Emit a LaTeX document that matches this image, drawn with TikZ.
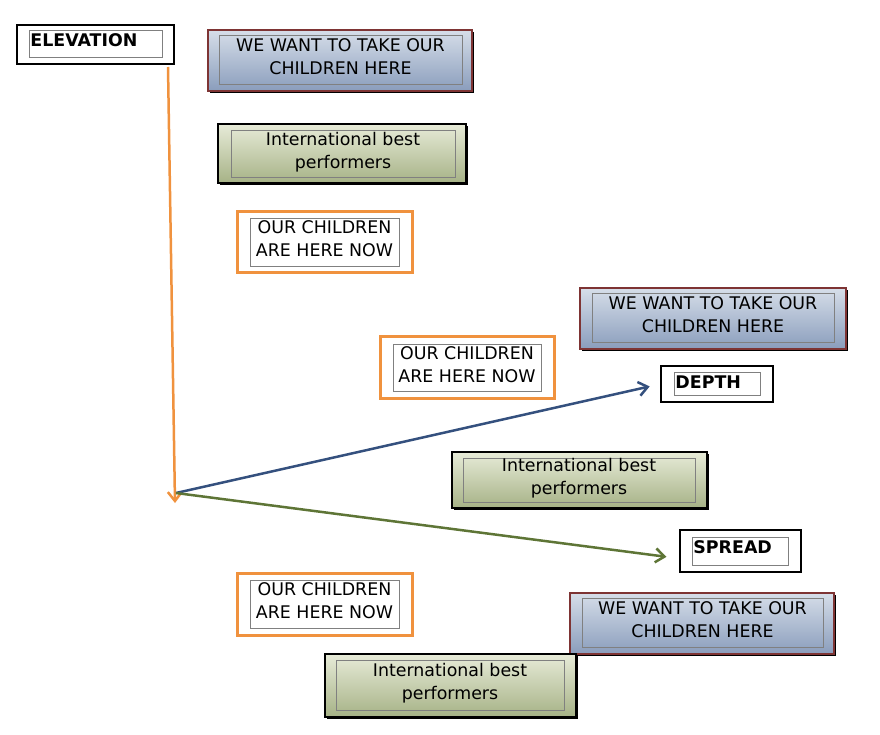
\documentclass[tikz,border=0pt]{standalone}
\usepackage{fontspec}
\setmainfont{DejaVu Sans}
\usetikzlibrary{arrows.meta,shadows}
\definecolor{kidorange}{HTML}{F0923E}
\definecolor{wantred}{HTML}{7E3434}
\definecolor{wanttop}{HTML}{D6DEE9}
\definecolor{wantbot}{HTML}{8A9DBC}
\definecolor{besttop}{HTML}{E7EBD8}
\definecolor{bestbot}{HTML}{A6B286}
\definecolor{depthblue}{HTML}{34507E}
\definecolor{spreadgreen}{HTML}{5E7536}
\begin{document}
\begin{tikzpicture}[x=1pt,y=-1pt]
\tikzstyle{every node}+=[font=\fontsize{17.4}{23}\selectfont, align=center, inner sep=0pt]
\tikzstyle{shadowed}=[drop shadow={shadow xshift=2pt,shadow yshift=-2pt,fill=black,opacity=1}]
\tikzstyle{wantbox}=[draw=wantred, line width=1.2pt, top color=wanttop, bottom color=wantbot, shadowed]
\tikzstyle{bestbox}=[draw=black, line width=1.2pt, top color=besttop, bottom color=bestbot, shadowed]
\tikzstyle{kidbox}=[draw=kidorange, line width=3pt, fill=white]
\tikzstyle{axisbox}=[draw=black, line width=1.2pt, fill=white]
\tikzstyle{inbox}=[draw=gray, line width=0.9pt, text depth=6.5pt]
\tikzstyle{tagbox}=[draw=gray, line width=0.9pt, anchor=north west, align=left, inner xsep=1pt, font=\fontsize{17.4}{23}\selectfont\bfseries]
\tikzstyle{barb}=[-{Straight Barb[length=9pt,width=14pt]}]
\useasboundingbox (0,0) rectangle (880,734);
\node[axisbox, minimum width=157pt, minimum height=39pt] (elev) at (95.5,44.5) {};
\node[tagbox, text width=131pt, text height=16pt, text depth=11pt] (elevtag) at (29,30) {ELEVATION};
\node[wantbox, minimum width=264pt, minimum height=61pt] (want1) at (340,60.5) {};
\node[inbox, minimum width=243pt, minimum height=49pt] (want1in) at (340.5,59.5) {WE WANT TO TAKE OUR\\CHILDREN HERE};
\node[bestbox, minimum width=248pt, minimum height=59pt] (best1) at (342,153.5) {};
\node[inbox, minimum width=224pt, minimum height=47pt] (best1in) at (343,153.5) {International best\\performers};
\node[kidbox, minimum width=175pt, minimum height=61pt] (kids1) at (324.5,241.5) {};
\node[inbox, minimum width=149pt, minimum height=48pt] (kids1in) at (324.5,242) {OUR CHILDREN\\ARE HERE NOW};
\node[wantbox, minimum width=266pt, minimum height=61pt] (want2) at (713,318.5) {};
\node[inbox, minimum width=242pt, minimum height=49pt] (want2in) at (713,317.5) {WE WANT TO TAKE OUR\\CHILDREN HERE};
\node[kidbox, minimum width=174pt, minimum height=62pt] (kids2) at (467,367) {};
\node[inbox, minimum width=148pt, minimum height=47pt] (kids2in) at (467,367.5) {OUR CHILDREN\\ARE HERE NOW};
\node[axisbox, minimum width=112pt, minimum height=36pt] (depth) at (717,384) {};
\node[tagbox, text width=84pt, text height=16pt, text depth=7pt] (depthtag) at (674,372) {DEPTH};
\node[bestbox, minimum width=255pt, minimum height=56pt] (best2) at (579.5,480) {};
\node[inbox, minimum width=232pt, minimum height=44pt] (best2in) at (579,480) {International best\\performers};
\node[axisbox, minimum width=121pt, minimum height=42pt] (spread) at (740.5,551) {};
\node[tagbox, text width=94pt, text height=16pt, text depth=12pt] (spreadtag) at (692,537) {SPREAD};
\node[kidbox, minimum width=175pt, minimum height=62pt] (kids3) at (324.5,604) {};
\node[inbox, minimum width=149pt, minimum height=48pt] (kids3in) at (324.5,604) {OUR CHILDREN\\ARE HERE NOW};
\node[wantbox, minimum width=264pt, minimum height=61pt] (want3) at (702,623.5) {};
\node[inbox, minimum width=241pt, minimum height=49pt] (want3in) at (702.5,622.5) {WE WANT TO TAKE OUR\\CHILDREN HERE};
\node[bestbox, minimum width=251pt, minimum height=63pt] (best3) at (450.5,685.5) {};
\node[inbox, minimum width=228pt, minimum height=50pt] (best3in) at (450,685) {International best\\performers};
\coordinate (elevfoot) at (168,67);
\coordinate (elevtip) at (175,503);
\coordinate (origin) at (176,493);
\draw[barb, kidorange, line width=2.5pt] (elevfoot) -- (elevtip);
\draw[barb, depthblue, line width=2.5pt, shorten >=11pt] (origin) -- (depth.west);
\draw[barb, spreadgreen, line width=2.5pt, shorten >=13pt] (origin) -- (spread.187);
\end{tikzpicture}
\end{document}
